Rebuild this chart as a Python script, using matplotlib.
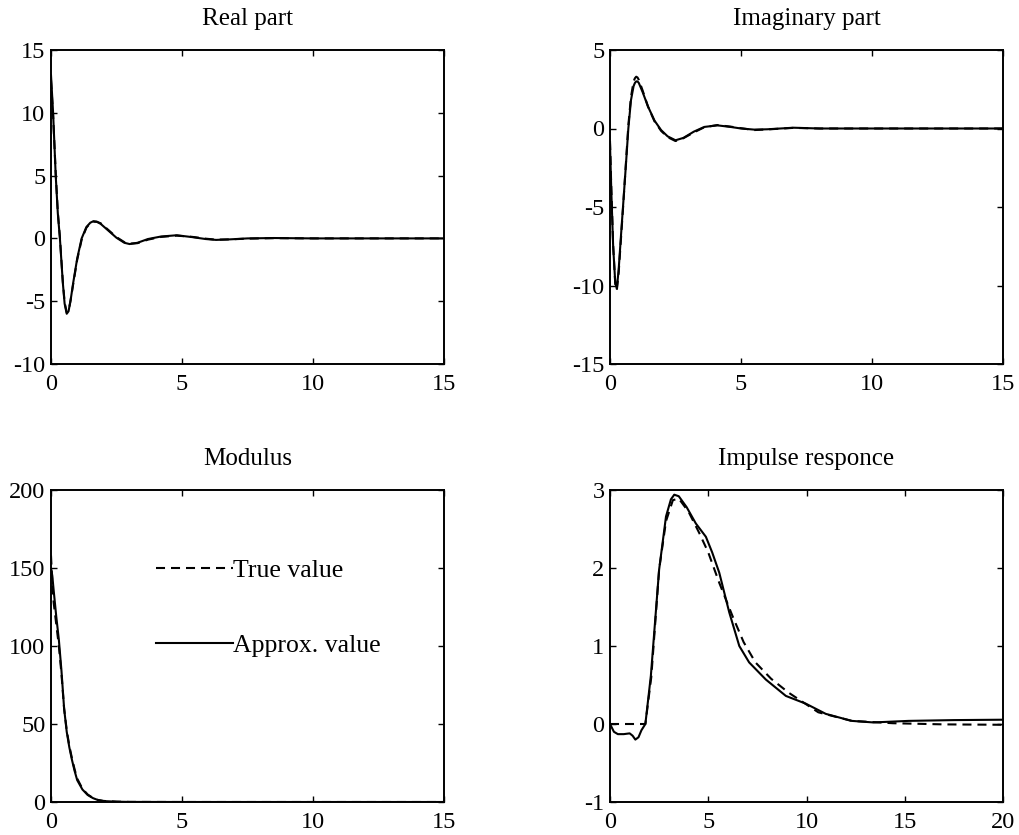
import matplotlib
matplotlib.use("Agg")
import matplotlib.pyplot as plt

plt.rcParams['font.family'] = ['Liberation Serif', 'DejaVu Serif']
plt.rcParams['lines.scale_dashes'] = False

# ---------------- data ----------------
real_t = [0, 0.08, 0.18, 0.26, 0.34, 0.45, 0.52, 0.6, 0.67, 0.75, 0.85, 1.0, 1.17, 1.35,
          1.5, 1.62, 1.75, 1.9, 2.2, 2.5, 2.8, 3.0, 3.3, 3.7, 4.2, 4.8, 5.4, 5.9, 6.3,
          6.8, 7.5, 8.5, 10, 12, 15]
real_approx = [13.0, 10.0, 5.0, 2.0, 0.0, -3.5, -5.2, -6.0, -5.8, -4.9, -3.5, -1.6, 0.0,
               0.9, 1.25, 1.37, 1.33, 1.15, 0.6, 0.05, -0.35, -0.45, -0.35, -0.05, 0.15,
               0.25, 0.1, -0.05, -0.12, -0.08, 0.0, 0.03, 0.0, 0.0, 0.0]
real_true = [12.6, 9.8, 5.2, 2.1, 0.1, -3.4, -5.1, -5.9, -5.8, -4.9, -3.6, -1.7, -0.1,
             0.85, 1.22, 1.33, 1.32, 1.2, 0.65, 0.1, -0.3, -0.42, -0.38, -0.1, 0.12,
             0.22, 0.12, -0.02, -0.1, -0.08, -0.02, 0.02, 0.0, 0.0, 0.0]

imag_t = [0, 0.05, 0.12, 0.2, 0.26, 0.33, 0.42, 0.5, 0.6, 0.7, 0.8, 0.9, 0.95, 1.0, 1.05,
          1.1, 1.25, 1.45, 1.7, 1.95, 2.2, 2.5, 2.8, 3.2, 3.6, 4.1, 4.6, 5.0, 5.5, 6.0,
          7.0, 8.0, 10, 12, 15]
imag_approx = [-1.0, -4.0, -7.5, -9.8, -10.2, -9.0, -6.8, -4.9, -2.5, 0.0, 1.8, 2.7, 2.9,
               3.0, 3.0, 2.9, 2.3, 1.4, 0.5, -0.1, -0.5, -0.75, -0.6, -0.2, 0.1, 0.2,
               0.1, 0.0, -0.07, -0.05, 0.05, 0.0, 0.0, 0.0, 0.0]
imag_true = [-0.8, -3.8, -7.4, -9.9, -10.3, -9.2, -7.0, -5.0, -2.4, 0.2, 2.0, 3.0, 3.2,
             3.3, 3.25, 3.1, 2.4, 1.4, 0.45, -0.15, -0.55, -0.8, -0.62, -0.25, 0.08,
             0.22, 0.12, 0.02, -0.1, -0.06, 0.04, 0.0, 0.0, 0.0, 0.0]

mod_t = [0, 0.05, 0.1, 0.2, 0.3, 0.4, 0.5, 0.6, 0.7, 0.8, 0.9, 1.0, 1.2, 1.4, 1.6, 1.8,
         2.0, 2.5, 3, 5, 10, 15]
mod_approx = [150, 145, 136, 119, 104, 84, 60, 45, 35, 27, 20, 14, 8, 4.5, 2.5, 1.2,
              0.6, 0.2, 0.05, 0, 0, 0]
mod_true = [158, 140, 128, 114, 100, 82, 60, 46, 36, 28, 21, 15, 8.5, 4.8, 2.6, 1.3,
            0.7, 0.2, 0.05, 0, 0, 0]

imp_t_approx = [0, 0.2, 0.4, 0.7, 1.0, 1.15, 1.29, 1.45, 1.6, 1.8, 2.08, 2.5, 2.85, 3.1,
                3.27, 3.5, 3.9, 4.37, 4.88, 5.2, 5.56, 6.07, 6.58, 7.08, 7.93, 8.95,
                9.97, 10.98, 12.3, 13.4, 15.2, 17.5, 20]
imp_approx = [0.0, -0.1, -0.13, -0.13, -0.12, -0.15, -0.2, -0.17, -0.08, 0.0, 0.62, 1.98,
              2.66, 2.88, 2.94, 2.92, 2.78, 2.57, 2.4, 2.2, 1.94, 1.43, 1.0, 0.79, 0.57,
              0.36, 0.26, 0.13, 0.04, 0.02, 0.04, 0.05, 0.055]
imp_t_true = [0, 1.8, 2.1, 2.5, 2.85, 3.2, 3.5, 4.0, 4.54, 5.0, 5.56, 6.24, 6.8, 7.4, 8.2,
              9.1, 10.6, 12.3, 14.4, 17, 20]
imp_true = [0.0, 0.0, 0.6, 1.98, 2.6, 2.87, 2.89, 2.72, 2.45, 2.2, 1.81, 1.38, 1.05, 0.79,
            0.58, 0.4, 0.15, 0.04, 0.01, -0.005, -0.01]

legend_labels = ['True value', 'Approx. value']

# ---------------- figure ----------------
fig = plt.figure(figsize=(10.19, 8.35), dpi=100)
W, H = 1019, 835

def add_ax(x0, y0, x1, y1):
    return fig.add_axes([x0 / W, 1 - y1 / H, (x1 - x0) / W, (y1 - y0) / H])

ax1 = add_ax(51, 50, 444, 364)
ax2 = add_ax(610, 50, 1003, 364)
ax3 = add_ax(51, 490, 444, 802)
ax4 = add_ax(610, 490, 1003, 802)

DASH = (0, (6.5, 4.3))
LW = 1.5

def style(ax, title, xlim, ylim, xticks, yticks):
    ax.set_xlim(*xlim)
    ax.set_ylim(*ylim)
    ax.set_xticks(xticks)
    ax.set_yticks(yticks)
    ax.set_xticklabels([str(v) for v in xticks])
    ax.set_yticklabels([str(v) for v in yticks])
    ax.tick_params(direction='in', top=True, right=True, length=4, width=1.0,
                   labelsize=17.5, colors='black')
    ax.tick_params(axis='x', pad=7)
    ax.tick_params(axis='y', pad=4)
    for s in ax.spines.values():
        s.set_linewidth(1.4)
    ax.set_title(title, fontsize=18, pad=18)

ax1.plot(real_t, real_true, color='black', lw=LW, ls=DASH)
ax1.plot(real_t, real_approx, color='black', lw=LW)
style(ax1, 'Real part', (0, 15), (-10, 15), [0, 5, 10, 15], [-10, -5, 0, 5, 10, 15])

ax2.plot(imag_t, imag_true, color='black', lw=LW, ls=DASH)
ax2.plot(imag_t, imag_approx, color='black', lw=LW)
style(ax2, 'Imaginary part', (0, 15), (-15, 5), [0, 5, 10, 15], [-15, -10, -5, 0, 5])

l1, = ax3.plot(mod_t, mod_true, color='black', lw=LW, ls=DASH)
l2, = ax3.plot(mod_t, mod_approx, color='black', lw=LW)
style(ax3, 'Modulus', (0, 15), (0, 200), [0, 5, 10, 15], [0, 50, 100, 150, 200])
ax3.legend([l1, l2], legend_labels, loc='upper left', bbox_to_anchor=(0.267, 0.78),
           frameon=False, fontsize=18.5, handlelength=3.0, handletextpad=0.0,
           labelspacing=2.05, borderpad=0, borderaxespad=0)

ax4.plot(imp_t_true, imp_true, color='black', lw=LW, ls=DASH)
ax4.plot(imp_t_approx, imp_approx, color='black', lw=LW)
style(ax4, 'Impulse responce', (0, 20), (-1, 3), [0, 5, 10, 15, 20], [-1, 0, 1, 2, 3])

fig.savefig('out.png', dpi=100)
